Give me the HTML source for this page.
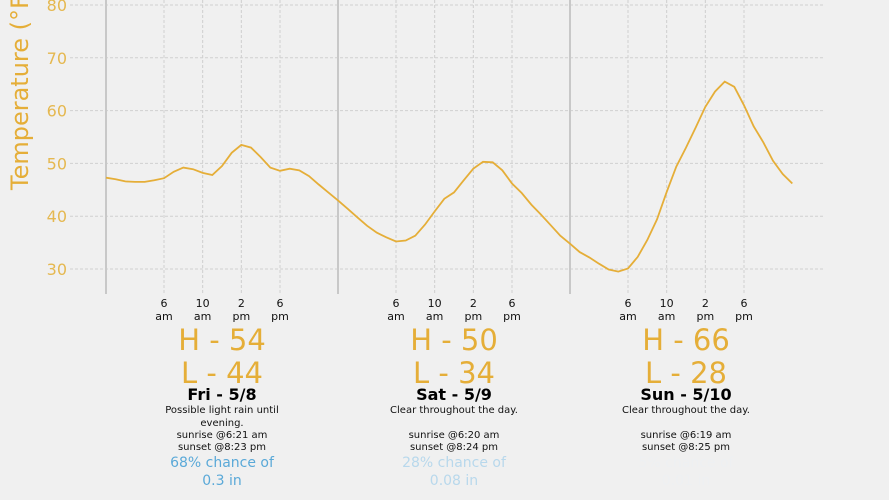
<!DOCTYPE html>
<html><head><meta charset="utf-8"><style>
body{margin:0;background:#f0f0f0;}
svg{display:block;font-family:"DejaVu Sans","Liberation Sans",sans-serif;}
</style></head><body>
<svg id="chart" width="889" height="500" viewBox="0 0 889 500">
<rect width="889" height="500" fill="#f0f0f0"/>
<g id="grid"></g><g id="yticks"></g><g id="xticks"></g>
<text transform="translate(28,190) rotate(-90)" font-size="24" fill="#e5ae38">Temperature (°F)</text>
<polyline id="line" fill="none" stroke="#e5ae38" stroke-width="1.8"/>
<g id="days"></g>
</svg>
<script>
const temps=[47.3,47.0,46.6,46.5,46.5,46.8,47.2,48.4,49.2,48.9,48.2,47.8,49.5,52.0,53.5,53.0,51.2,49.2,48.6,49.0,48.7,47.6,46.0,44.5,
43.0,41.4,39.8,38.2,36.9,36.0,35.2,35.4,36.3,38.4,40.9,43.3,44.5,46.8,49.0,50.3,50.2,48.7,46.2,44.4,42.2,40.3,38.3,36.3,
34.8,33.2,32.2,31.0,29.9,29.5,30.1,32.3,35.5,39.4,44.6,49.4,53.0,56.8,60.7,63.6,65.5,64.5,61.0,57.0,54.0,50.5,48.0,46.2];
const yTicks=[30,40,50,60,70,80];
const hourTicks=[6,10,14,18];
const hourLabels=[["6","am"],["10","am"],["2","pm"],["6","pm"]];
const dayNames=["Fri - 5/8","Sat - 5/9","Sun - 5/10"];
const highs=[54,50,66];
const lows=[44,34,28];
const descs=[["Possible light rain until","evening."],["Clear throughout the day.",""],["Clear throughout the day.",""]];
const sunrises=["6:21 am","6:20 am","6:19 am"];
const sunsets=["8:23 pm","8:24 pm","8:25 pm"];
const chances=[68,28,5];
const amounts=["0.3 in","0.08 in","0.01 in"];
const chanceColors=["#5aa9d8","#b8d8ec","#eef0f2"];
const NS="http://www.w3.org/2000/svg";
const X=h=>106+h*232/24, Y=v=>269-(v-30)*5.28;
function mk(tag,attrs,parent,txt){const e=document.createElementNS(NS,tag);for(const k in attrs)e.setAttribute(k,attrs[k]);if(txt!==undefined)e.textContent=txt;parent.appendChild(e);return e;}
const grid=document.getElementById('grid'),yt=document.getElementById('yticks'),xt=document.getElementById('xticks'),days=document.getElementById('days');
yTicks.forEach(v=>{
 const l=mk('line',{x1:70,x2:825,y1:Y(v),y2:Y(v),stroke:'#cfcfcf','stroke-dasharray':'3,2'},grid);
 
 
 const t=mk('text',{x:67,y:Y(v)+6,'text-anchor':'end','font-size':16,fill:'#e5b850'},yt,String(v));
 
 
});
for(let d=0;d<3;d++){
 const dl=mk('line',{x1:X(d*24),x2:X(d*24),y1:0,y2:294,stroke:'#c8c8c8','stroke-width':2},grid);
 
 
 hourTicks.forEach((h,i)=>{
  const x=X(d*24+h);
  const g=mk('line',{x1:x,x2:x,y1:0,y2:294,stroke:'#cfcfcf','stroke-dasharray':'3,2'},grid);
  
  
  const t1=mk('text',{x:x,y:307,'text-anchor':'middle','font-size':11,fill:'#111'},xt,hourLabels[i][0]);
  
  
  const t2=mk('text',{x:x,y:320,'text-anchor':'middle','font-size':11,fill:'#111'},xt,hourLabels[i][1]);
  
  
 });
 const cx=X(d*24+12)+0;
 const rows=[
  ['H - '+highs[d],350,29,'#e5ae38','normal','high-temp'],
  ['L - '+lows[d],383,29,'#e5ae38','normal','low-temp'],
  [dayNames[d],400,16,'#000','bold','day-label'],
  [descs[d][0],413,10,'#111','normal','day-description'],
  [descs[d][1],426,10,'#111','normal','day-description'],
  ['sunrise @'+sunrises[d],438,10,'#111','normal','sunrise-time'],
  ['sunset @'+sunsets[d],450,10,'#111','normal','sunset-time'],
  [chances[d]+'% chance of',467,14,chanceColors[d],'normal','rain-chance'],
  [amounts[d],485,14,chanceColors[d],'normal','rain-amount']];
 rows.forEach(r=>{
  if(!r[0])return;
  const t=mk('text',{x:cx,y:r[1],'text-anchor':'middle','font-size':r[2],fill:r[3],'font-weight':r[4]},days,r[0]);
  
  
 });
}
document.getElementById('line').setAttribute('points',temps.map((v,i)=>X(i).toFixed(1)+','+Y(v).toFixed(1)).join(' '));
</script>
</body></html>
